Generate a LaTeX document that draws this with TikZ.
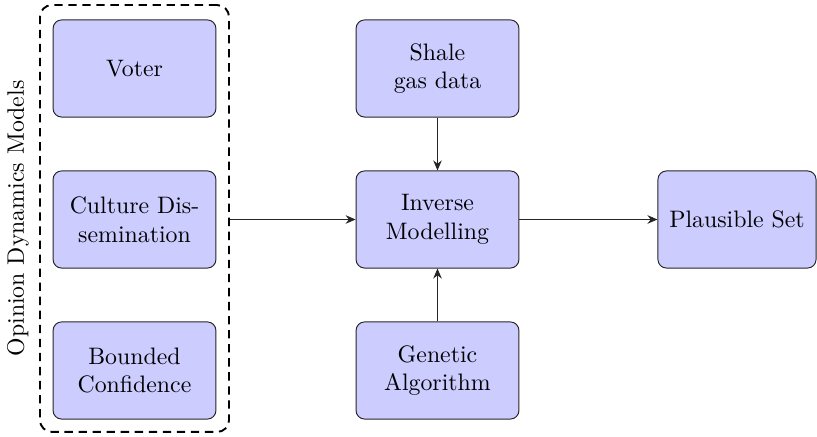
\documentclass[tikz,border=0pt]{standalone}
\usetikzlibrary{arrows.meta}
\begin{document}
\begin{tikzpicture}[x=0.42pt,y=-0.42pt,
  box/.style={draw=black!85, fill=blue!20, rounded corners=3.6pt, align=center,
    minimum width=68.4pt, minimum height=40.8pt, inner sep=2pt, line width=0.4pt},
  conn/.style={-{Stealth[length=4.2pt,width=3.6pt]}, line width=0.4pt, draw=black!85}]
\useasboundingbox (0,0) rectangle (817,437);
\node[draw=black, dash pattern=on 3.5pt off 2.4pt, thick, rounded corners=5pt, minimum width=79.4pt, minimum height=179.3pt] (group) at (134.5,218.5) {};
\node[rotate=90] (label) at (18,218.5) {Opinion Dynamics Models};
\node[box] (voter) at (134.5,68.5) {Voter};
\node[box] (culture) at (134.5,219.5) {Culture Dis-\\semination};
\node[box] (bounded) at (134.5,370.5) {Bounded\\Confidence};
\node[box] (shale) at (437.5,68.5) {Shale\\gas data};
\node[box] (inverse) at (437.5,219.5) {Inverse\\Modelling};
\node[box] (genetic) at (437.5,370.5) {Genetic\\Algorithm};
\node[box, minimum width=66.4pt] (plausible) at (737,219.5) {Plausible Set};
\draw[conn] (group.east |- inverse.west) -- (inverse.west);
\draw[conn] (shale) -- (inverse);
\draw[conn] (genetic) -- (inverse);
\draw[conn] (inverse) -- (plausible);
\end{tikzpicture}
\end{document}
